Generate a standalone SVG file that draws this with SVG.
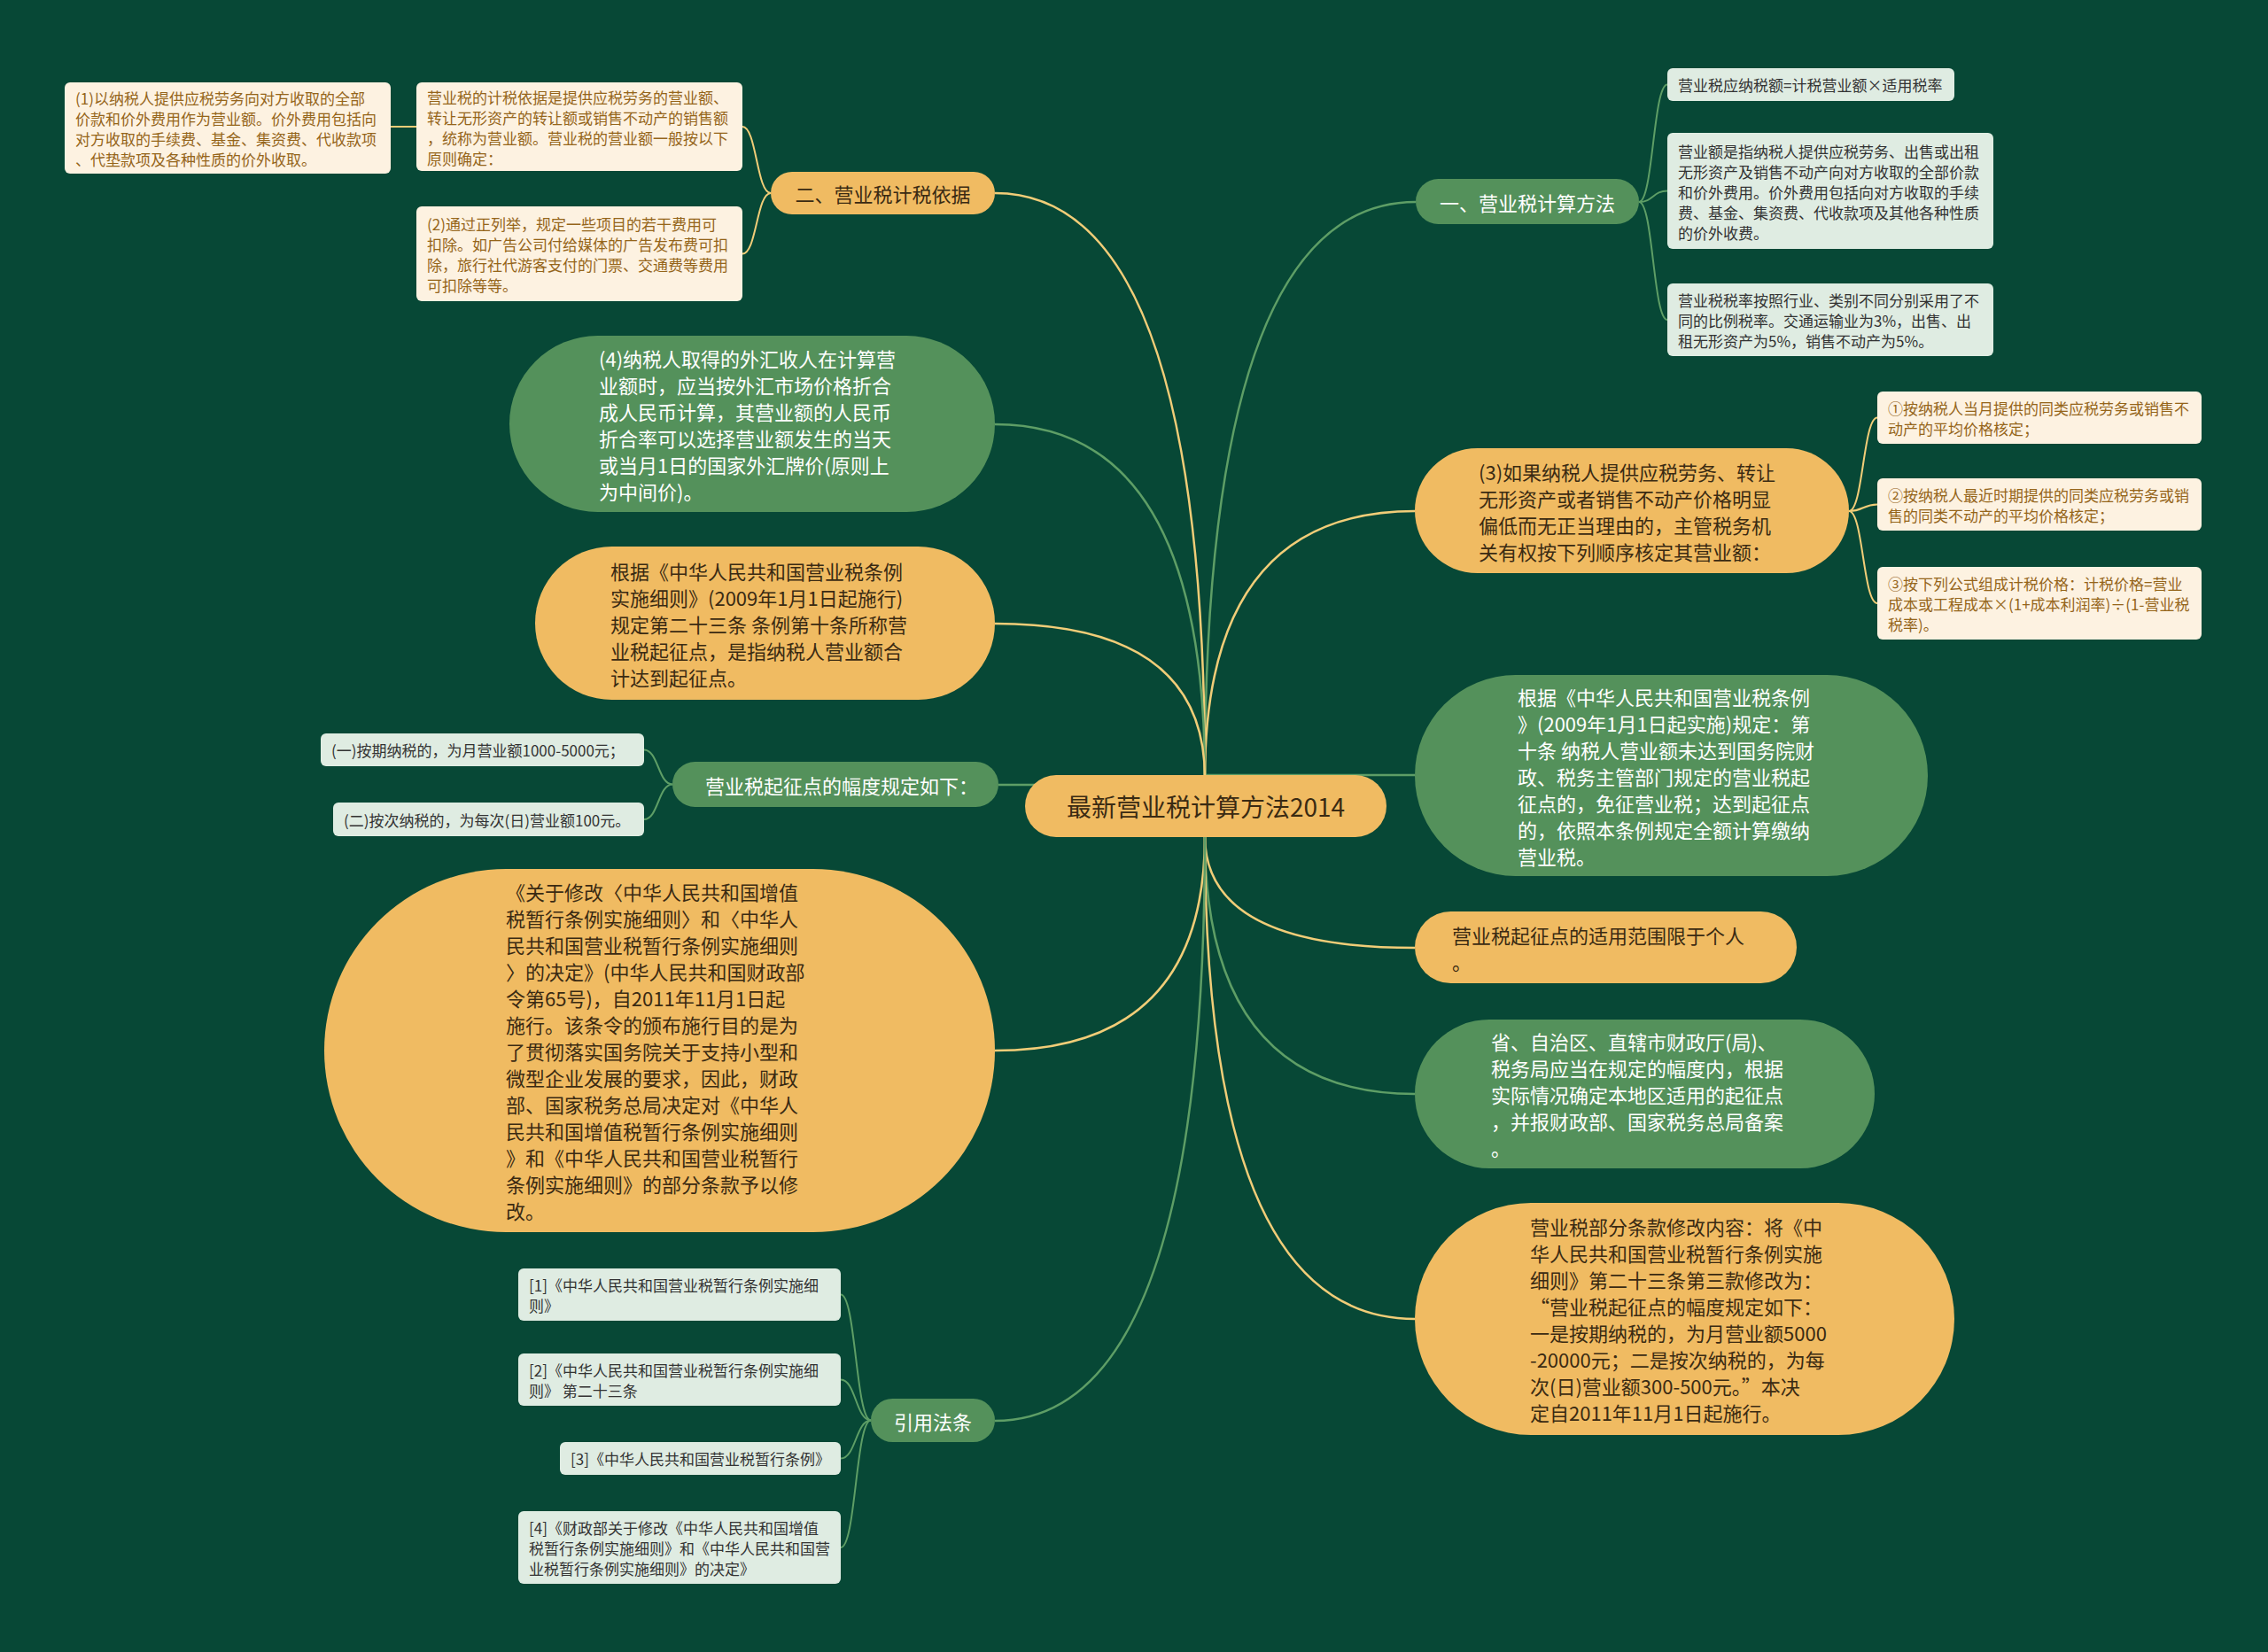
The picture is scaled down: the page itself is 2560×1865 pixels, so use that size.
<svg xmlns="http://www.w3.org/2000/svg" width="2560" height="1865" viewBox="0 0 2560 1865">
<style>
text{font-family:"Noto Sans CJK SC","Noto Sans",sans-serif;dominant-baseline:central}
.or{fill:#F0BB62}
.gr{fill:#54915B}
.cr{fill:#FDF2E1}
.lg{fill:#DFECE2}
.tcr{font-size:17px;fill:#95651A}
.tlg{font-size:17px;fill:#333333}
.tor{font-size:22px;fill:#3A2A12}
.tgr{font-size:22px;fill:#FFFFFF}
.ly{fill:none;stroke:#F1CD78;stroke-width:2.5}
.lgn{fill:none;stroke:#5E9E66;stroke-width:2.5}
.by{fill:none;stroke:#F1CD78;stroke-width:2}
.bg2{fill:none;stroke:#5E9E66;stroke-width:2}
</style>
<rect x="0" y="0" width="2560" height="1865" fill="#074836"/>
<g id="connectors">
<path class="lgn" d="M1360,878 Q1360,228 1598,228"/>
<path class="ly" d="M1360,878 Q1360,577 1597,577"/>
<path class="lgn" d="M1360,875 L1597,875"/>
<path class="ly" d="M1360,944 Q1360,1070 1597,1070"/>
<path class="lgn" d="M1360,944 Q1360,1235 1597,1235"/>
<path class="ly" d="M1360,944 Q1360,1489 1597,1489"/>
<path class="ly" d="M1360,878 Q1360,218 1123,218"/>
<path class="lgn" d="M1360,878 Q1360,479 1123,479"/>
<path class="ly" d="M1360,878 Q1360,704 1123,704"/>
<path class="lgn" d="M1360,886 L1127,886"/>
<path class="ly" d="M1360,944 Q1360,1186 1123,1186"/>
<path class="lgn" d="M1360,944 Q1360,1604 1123,1604"/>
<path class="bg2" d="M1850,228 C1866,228 1866,95.5 1882,95.5"/>
<path class="bg2" d="M1850,228 C1866,228 1866,215.5 1882,215.5"/>
<path class="bg2" d="M1850,228 C1866,228 1866,361 1882,361"/>
<path class="by" d="M2087,577 C2103,577 2103,471.5 2119,471.5"/>
<path class="by" d="M2087,577 C2103,577 2103,569.5 2119,569.5"/>
<path class="by" d="M2087,577 C2103,577 2103,681 2119,681"/>
<path class="by" d="M870,218 C854,218 854,143 838,143"/>
<path class="by" d="M870,218 C854,218 854,286.5 838,286.5"/>
<path class="by" d="M470,143 L441,143"/>
<path class="bg2" d="M759,885.5 C743,885.5 743,846.5 727,846.5"/>
<path class="bg2" d="M759,885.5 C743,885.5 743,925 727,925"/>
<path class="bg2" d="M983,1603.5 C966,1603.5 966,1461.5 949,1461.5"/>
<path class="bg2" d="M983,1603.5 C966,1603.5 966,1557.5 949,1557.5"/>
<path class="bg2" d="M983,1603.5 C966,1603.5 966,1646.5 949,1646.5"/>
<path class="bg2" d="M983,1603.5 C966,1603.5 966,1747 949,1747"/>
</g>
<g id="root">
<rect class="or" x="1157" y="875" width="408" height="70" rx="35"/>
<text x="1361" y="910" font-size="28" fill="#3A2A12" text-anchor="middle">最新营业税计算方法2014</text>
</g>
<g id="n-a">
<rect class="gr" x="1598" y="202" width="252" height="51" rx="25.5"/>
<text class="tgr" x="1724" y="227.5" text-anchor="middle">一、营业税计算方法</text>
</g>
<g id="n-a1">
<rect class="lg" x="1882" y="77" width="324" height="37" rx="6"/>
<text class="tlg" x="1894" y="95.5">营业税应纳税额=计税营业额×适用税率</text>
</g>
<g id="n-a2">
<rect class="lg" x="1882" y="150" width="368" height="131" rx="6"/>
<text class="tlg"><tspan x="1894" y="169.5">营业额是指纳税人提供应税劳务、出售或出租</tspan><tspan x="1894" y="192.5">无形资产及销售不动产向对方收取的全部价款</tspan><tspan x="1894" y="215.5">和价外费用。价外费用包括向对方收取的手续</tspan><tspan x="1894" y="238.5">费、基金、集资费、代收款项及其他各种性质</tspan><tspan x="1894" y="261.5">的价外收费。</tspan></text>
</g>
<g id="n-a3">
<rect class="lg" x="1882" y="320" width="368" height="82" rx="6"/>
<text class="tlg"><tspan x="1894" y="338">营业税税率按照行业、类别不同分别采用了不</tspan><tspan x="1894" y="361">同的比例税率。交通运输业为3%，出售、出</tspan><tspan x="1894" y="384">租无形资产为5%，销售不动产为5%。</tspan></text>
</g>
<g id="n-b">
<rect class="or" x="1597" y="506" width="490" height="141" rx="70.5"/>
<text class="tor"><tspan x="1669" y="531.5">(3)如果纳税人提供应税劳务、转让</tspan><tspan x="1669" y="561.5">无形资产或者销售不动产价格明显</tspan><tspan x="1669" y="591.5">偏低而无正当理由的，主管税务机</tspan><tspan x="1669" y="621.5">关有权按下列顺序核定其营业额：</tspan></text>
</g>
<g id="n-b1">
<rect class="cr" x="2119" y="442" width="366" height="59" rx="6"/>
<text class="tcr"><tspan x="2131" y="460">①按纳税人当月提供的同类应税劳务或销售不</tspan><tspan x="2131" y="483">动产的平均价格核定；</tspan></text>
</g>
<g id="n-b2">
<rect class="cr" x="2119" y="540" width="366" height="59" rx="6"/>
<text class="tcr"><tspan x="2131" y="558">②按纳税人最近时期提供的同类应税劳务或销</tspan><tspan x="2131" y="581">售的同类不动产的平均价格核定；</tspan></text>
</g>
<g id="n-b3">
<rect class="cr" x="2119" y="640" width="366" height="82" rx="6"/>
<text class="tcr"><tspan x="2131" y="658">③按下列公式组成计税价格：计税价格=营业</tspan><tspan x="2131" y="681">成本或工程成本×(1+成本利润率)÷(1-营业税</tspan><tspan x="2131" y="704">税率)。</tspan></text>
</g>
<g id="n-c">
<rect class="gr" x="1597" y="762" width="579" height="227" rx="113.5"/>
<text class="tgr"><tspan x="1713" y="785.5">根据《中华人民共和国营业税条例</tspan><tspan x="1713" y="815.5">》(2009年1月1日起实施)规定：第</tspan><tspan x="1713" y="845.5">十条 纳税人营业额未达到国务院财</tspan><tspan x="1713" y="875.5">政、税务主管部门规定的营业税起</tspan><tspan x="1713" y="905.5">征点的，免征营业税；达到起征点</tspan><tspan x="1713" y="935.5">的，依照本条例规定全额计算缴纳</tspan><tspan x="1713" y="965.5">营业税。</tspan></text>
</g>
<g id="n-d">
<rect class="or" x="1597" y="1029" width="431" height="81" rx="40.5"/>
<text class="tor"><tspan x="1639" y="1054.5">营业税起征点的适用范围限于个人</tspan><tspan x="1639" y="1084.5">。</tspan></text>
</g>
<g id="n-e">
<rect class="gr" x="1597" y="1151" width="519" height="168" rx="84"/>
<text class="tgr"><tspan x="1683" y="1175">省、自治区、直辖市财政厅(局)、</tspan><tspan x="1683" y="1205">税务局应当在规定的幅度内，根据</tspan><tspan x="1683" y="1235">实际情况确定本地区适用的起征点</tspan><tspan x="1683" y="1265">，并报财政部、国家税务总局备案</tspan><tspan x="1683" y="1295">。</tspan></text>
</g>
<g id="n-f">
<rect class="or" x="1597" y="1358" width="609" height="262" rx="131"/>
<text class="tor"><tspan x="1727" y="1384">营业税部分条款修改内容：将《中</tspan><tspan x="1727" y="1414">华人民共和国营业税暂行条例实施</tspan><tspan x="1727" y="1444">细则》第二十三条第三款修改为：</tspan><tspan x="1727" y="1474">“营业税起征点的幅度规定如下：</tspan><tspan x="1727" y="1504">一是按期纳税的，为月营业额5000</tspan><tspan x="1727" y="1534">-20000元；二是按次纳税的，为每</tspan><tspan x="1727" y="1564">次(日)营业额300-500元。”本决</tspan><tspan x="1727" y="1594">定自2011年11月1日起施行。</tspan></text>
</g>
<g id="n-g">
<rect class="or" x="870" y="194" width="253" height="48" rx="24"/>
<text class="tor" x="996.5" y="218" text-anchor="middle">二、营业税计税依据</text>
</g>
<g id="n-g1">
<rect class="cr" x="470" y="93" width="368" height="100" rx="6"/>
<text class="tcr"><tspan x="482" y="108.5">营业税的计税依据是提供应税劳务的营业额、</tspan><tspan x="482" y="131.5">转让无形资产的转让额或销售不动产的销售额</tspan><tspan x="482" y="154.5">，统称为营业额。营业税的营业额一般按以下</tspan><tspan x="482" y="177.5">原则确定：</tspan></text>
</g>
<g id="n-g1a">
<rect class="cr" x="73" y="93" width="368" height="103" rx="6"/>
<text class="tcr"><tspan x="85" y="110">(1)以纳税人提供应税劳务向对方收取的全部</tspan><tspan x="85" y="133">价款和价外费用作为营业额。价外费用包括向</tspan><tspan x="85" y="156">对方收取的手续费、基金、集资费、代收款项</tspan><tspan x="85" y="179">、代垫款项及各种性质的价外收取。</tspan></text>
</g>
<g id="n-g2">
<rect class="cr" x="470" y="233" width="368" height="107" rx="6"/>
<text class="tcr"><tspan x="482" y="252">(2)通过正列举，规定一些项目的若干费用可</tspan><tspan x="482" y="275">扣除。如广告公司付给媒体的广告发布费可扣</tspan><tspan x="482" y="298">除，旅行社代游客支付的门票、交通费等费用</tspan><tspan x="482" y="321">可扣除等等。</tspan></text>
</g>
<g id="n-h">
<rect class="gr" x="575" y="379" width="548" height="199" rx="99.5"/>
<text class="tgr"><tspan x="676" y="403.5">(4)纳税人取得的外汇收人在计算营</tspan><tspan x="676" y="433.5">业额时，应当按外汇市场价格折合</tspan><tspan x="676" y="463.5">成人民币计算，其营业额的人民币</tspan><tspan x="676" y="493.5">折合率可以选择营业额发生的当天</tspan><tspan x="676" y="523.5">或当月1日的国家外汇牌价(原则上</tspan><tspan x="676" y="553.5">为中间价)。</tspan></text>
</g>
<g id="n-i">
<rect class="or" x="604" y="617" width="519" height="173" rx="86.5"/>
<text class="tor"><tspan x="689" y="643.5">根据《中华人民共和国营业税条例</tspan><tspan x="689" y="673.5">实施细则》(2009年1月1日起施行)</tspan><tspan x="689" y="703.5">规定第二十三条 条例第十条所称营</tspan><tspan x="689" y="733.5">业税起征点，是指纳税人营业额合</tspan><tspan x="689" y="763.5">计达到起征点。</tspan></text>
</g>
<g id="n-j">
<rect class="gr" x="759" y="860" width="368" height="51" rx="25.5"/>
<text class="tgr" x="950" y="885.5" text-anchor="middle">营业税起征点的幅度规定如下：</text>
</g>
<g id="n-j1">
<rect class="lg" x="362" y="828" width="365" height="37" rx="6"/>
<text class="tlg" x="374" y="846.5">(一)按期纳税的，为月营业额1000-5000元；</text>
</g>
<g id="n-j2">
<rect class="lg" x="376" y="906" width="351" height="38" rx="6"/>
<text class="tlg" x="388" y="925">(二)按次纳税的，为每次(日)营业额100元。</text>
</g>
<g id="n-k">
<rect class="or" x="366" y="981" width="757" height="410" rx="205"/>
<text class="tor"><tspan x="571" y="1006">《关于修改〈中华人民共和国增值</tspan><tspan x="571" y="1036">税暂行条例实施细则〉和〈中华人</tspan><tspan x="571" y="1066">民共和国营业税暂行条例实施细则</tspan><tspan x="571" y="1096">〉的决定》(中华人民共和国财政部</tspan><tspan x="571" y="1126">令第65号)，自2011年11月1日起</tspan><tspan x="571" y="1156">施行。该条令的颁布施行目的是为</tspan><tspan x="571" y="1186">了贯彻落实国务院关于支持小型和</tspan><tspan x="571" y="1216">微型企业发展的要求，因此，财政</tspan><tspan x="571" y="1246">部、国家税务总局决定对《中华人</tspan><tspan x="571" y="1276">民共和国增值税暂行条例实施细则</tspan><tspan x="571" y="1306">》和《中华人民共和国营业税暂行</tspan><tspan x="571" y="1336">条例实施细则》的部分条款予以修</tspan><tspan x="571" y="1366">改。</tspan></text>
</g>
<g id="n-l">
<rect class="gr" x="983" y="1579" width="140" height="49" rx="24.5"/>
<text class="tgr" x="1053" y="1603.5" text-anchor="middle">引用法条</text>
</g>
<g id="n-l1">
<rect class="lg" x="585" y="1432" width="364" height="59" rx="6"/>
<text class="tlg"><tspan x="597" y="1450">[1]《中华人民共和国营业税暂行条例实施细</tspan><tspan x="597" y="1473">则》</tspan></text>
</g>
<g id="n-l2">
<rect class="lg" x="585" y="1528" width="364" height="59" rx="6"/>
<text class="tlg"><tspan x="597" y="1546">[2]《中华人民共和国营业税暂行条例实施细</tspan><tspan x="597" y="1569">则》 第二十三条</tspan></text>
</g>
<g id="n-l3">
<rect class="lg" x="632" y="1628" width="317" height="37" rx="6"/>
<text class="tlg" x="644" y="1646.5">[3]《中华人民共和国营业税暂行条例》</text>
</g>
<g id="n-l4">
<rect class="lg" x="585" y="1706" width="364" height="82" rx="6"/>
<text class="tlg"><tspan x="597" y="1724">[4]《财政部关于修改《中华人民共和国增值</tspan><tspan x="597" y="1747">税暂行条例实施细则》和《中华人民共和国营</tspan><tspan x="597" y="1770">业税暂行条例实施细则》的决定》</tspan></text>
</g>
</svg>
